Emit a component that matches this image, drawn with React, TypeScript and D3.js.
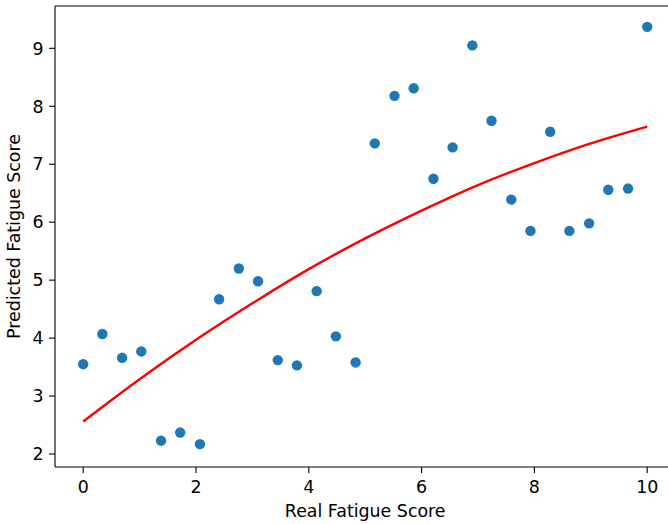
import React from "react";
import * as d3 from "d3";

const realScores = [0, 0.34, 0.69, 1.03, 1.38, 1.72, 2.07, 2.41, 2.76, 3.1, 3.45, 3.79, 4.14, 4.48, 4.83, 5.17, 5.52, 5.86, 6.21, 6.55, 6.9, 7.24, 7.59, 7.93, 8.28, 8.62, 8.97, 9.31, 9.66, 10];
const predictedScores = [3.55, 4.07, 3.66, 3.77, 2.23, 2.37, 2.17, 4.67, 5.2, 4.98, 3.62, 3.53, 4.81, 4.03, 3.58, 7.36, 8.18, 8.31, 6.75, 7.29, 9.05, 7.75, 6.39, 5.85, 7.56, 5.85, 5.98, 6.56, 6.58, 9.37];

const fitX = [0, 1, 2, 3, 4, 5, 6, 7, 8, 9, 10];
const fitY = [2.56, 3.29, 3.97, 4.6, 5.19, 5.72, 6.2, 6.64, 7.02, 7.36, 7.65];

const xTicks = [0, 2, 4, 6, 8, 10];
const yTicks = [2, 3, 4, 5, 6, 7, 8, 9];

const xLabel = "Real Fatigue Score";
const yLabel = "Predicted Fatigue Score";

const W = 668;
const H = 524;
const FONT = "'DejaVu Sans', sans-serif";

export default function App() {
  const x = d3.scaleLinear().domain([-0.5, 10.5]).range([55, 675.4]);
  const y = d3.scaleLinear().domain([1.776, 9.73]).range([467, 6]);
  const left = 55, top = 6, bottom = 467, right = 675.4;

  const line = d3
    .line<number>()
    .x((_, i) => x(fitX[i]))
    .y((d) => y(d))
    .curve(d3.curveMonotoneX);

  return (
    <div style={{ position: "absolute", left: 0, top: 0 }}>
      <svg width={W} height={H} style={{ display: "block", background: "#fff" }}>
        <rect x={0} y={0} width={W} height={H} fill="#fff" />
        {/* fit curve */}
        <path d={line(fitY) || ""} fill="none" stroke="#ff0000" strokeWidth={2.4} />
        {/* scatter */}
        {realScores.map((v, i) => (
          <circle key={i} cx={x(v)} cy={y(predictedScores[i])} r={5.2} fill="#1f77b4" />
        ))}
        {/* spines */}
        <g stroke="#000" strokeWidth={1.1} fill="none">
          <line x1={left} y1={top} x2={right} y2={top} />
          <line x1={left} y1={bottom} x2={right} y2={bottom} />
          <line x1={left} y1={top} x2={left} y2={bottom} />
          <line x1={right} y1={top} x2={right} y2={bottom} />
        </g>
        {/* x ticks */}
        {xTicks.map((t) => (
          <g key={"x" + t}>
            <line x1={x(t)} x2={x(t)} y1={bottom} y2={bottom + 6} stroke="#000" strokeWidth={1.1} />
            <text x={x(t)} y={493} textAnchor="middle" fontFamily={FONT} fontSize={17.4} fill="#000">
              {t}
            </text>
          </g>
        ))}
        {/* y ticks */}
        {yTicks.map((t) => (
          <g key={"y" + t}>
            <line x1={left - 6} x2={left} y1={y(t)} y2={y(t)} stroke="#000" strokeWidth={1.1} />
            <text x={43.5} y={y(t)} dy="0.36em" textAnchor="end" fontFamily={FONT} fontSize={17.4} fill="#000">
              {t}
            </text>
          </g>
        ))}
        <text x={(left + right) / 2} y={517} textAnchor="middle" fontFamily={FONT} fontSize={17.4} fill="#000">
          {xLabel}
        </text>
        <text
          transform={`translate(20, ${(top + bottom) / 2}) rotate(-90)`}
          textAnchor="middle"
          fontFamily={FONT}
          fontSize={17.4}
          fill="#000"
        >
          {yLabel}
        </text>
      </svg>
    </div>
  );
}
